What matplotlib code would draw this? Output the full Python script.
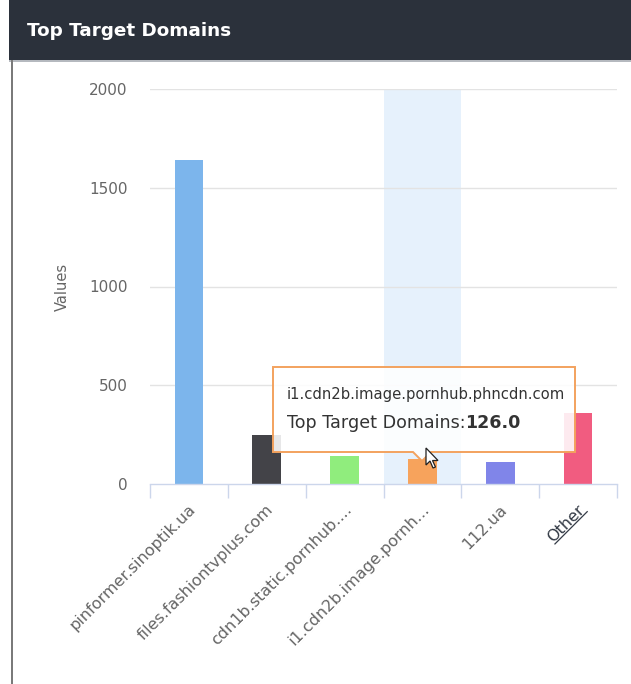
import matplotlib
matplotlib.use("Agg")
import math
import matplotlib.pyplot as plt
from matplotlib.patches import Rectangle, Polygon
from matplotlib.lines import Line2D

W, H = 631, 684
DPI = 100

categories = ["pinformer.sinoptik.ua", "files.fashiontvplus.com", "cdn1b.static.pornhub....",
              "i1.cdn2b.image.pornh...", "112.ua", "Other"]
values = [1640, 250, 142, 126, 113, 362]
colors = ["#7cb5ec", "#434348", "#90ed7d", "#f7a35c", "#8085e9", "#f15c80"]
yticks = [0, 500, 1000, 1500, 2000]
title = "Top Target Domains"
ylabel = "Values"
tooltip_name = "i1.cdn2b.image.pornhub.phncdn.com"
tooltip_series = "Top Target Domains:"
tooltip_value = "126.0"
hover_index = 3


def fx(x):
    return x / W


def fy(y):
    return 1 - y / H


fig = plt.figure(figsize=(W / DPI, H / DPI), dpi=DPI)
fig.patch.set_facecolor("white")

# header
fig.add_artist(Rectangle((fx(9), fy(60)), fx(W) - fx(9), fy(0) - fy(60),
                         transform=fig.transFigure, facecolor="#2b313b", edgecolor="none", zorder=0))
fig.add_artist(Rectangle((fx(9), fy(61.5)), fx(W) - fx(9), fy(60) - fy(61.5),
                         transform=fig.transFigure, facecolor="#b5b9bf", edgecolor="none", zorder=0))
# left border
fig.add_artist(Rectangle((fx(10.5), fy(H)), fx(2), fy(60) - fy(H),
                         transform=fig.transFigure, facecolor="#7a7a7a", edgecolor="none", zorder=0))
fig.text(fx(27), fy(31), title, color="white", fontsize=13.2, fontweight="bold",
         ha="left", va="center", family="DejaVu Sans")

# plot area
left, right, top, bottom = 150, 617, 89, 484
ax = fig.add_axes([fx(left), fy(bottom), fx(right) - fx(left), fy(top) - fy(bottom)])
ax.set_xlim(-0.5, len(categories) - 0.5)
ax.set_ylim(0, 2000)
ax.set_facecolor("none")

# hover band
ax.axvspan(hover_index - 0.5, hover_index + 0.5, color="#e6f1fc", zorder=0, lw=0)

for y in yticks[1:]:
    ax.axhline(y, color="#e3e3e3", lw=1, zorder=1)

x = list(range(len(categories)))
ax.bar(x, values, width=0.37, color=colors, zorder=2)

for s in ["top", "right", "left"]:
    ax.spines[s].set_visible(False)
ax.spines["bottom"].set_color("#ccd6eb")
ax.spines["bottom"].set_linewidth(1)

ax.set_yticks(yticks)
ax.set_yticklabels([str(v) for v in yticks], color="#666666", fontsize=11)
ax.tick_params(axis="y", length=0, pad=16)

ax.set_xticks([i - 0.5 for i in range(len(categories) + 1)])
ax.set_xticklabels([])
ax.tick_params(axis="x", direction="out", length=10, color="#ccd6eb", width=1)

lab_fs = 11.5
lab_y = -0.045
label_texts = []
for i, lab in enumerate(categories):
    t = ax.text(i - 0.01, lab_y, lab, transform=ax.get_xaxis_transform(),
                rotation=45, rotation_mode="anchor", ha="right", va="top",
                fontsize=lab_fs, color="#656565" if lab != "Other" else "#333a45")
    label_texts.append(t)

ax.set_ylabel(ylabel, color="#666666", fontsize=10.5, labelpad=14)

# underline for "Other"
fig.canvas.draw()
renderer = fig.canvas.get_renderer()
ot = label_texts[-1]
fp = ot.get_fontproperties()
w_o, _, _ = renderer.get_text_width_height_descent("Other", fp, ismath=False)
_, h_lp, d_lp = renderer.get_text_width_height_descent("lp", fp, ismath=False)
anc_x = ax.transData.transform((len(categories) - 1 - 0.01, 0))[0]
anc_y = ax.get_xaxis_transform().transform((0, lab_y))[1]
v = -(h_lp - d_lp) - 2.0
c = s_ = math.cos(math.radians(45))
pts = []
for u in (-w_o, 0):
    pts.append(((anc_x + u * c - v * s_) / W, (anc_y + u * s_ + v * c) / H))
fig.add_artist(Line2D([p[0] for p in pts], [p[1] for p in pts],
                      transform=fig.transFigure, color="#333a45", lw=0.9))

# tooltip
bl, bt, br, bbm = 273, 367, 575, 452
tip_x, tip_y = 422, 461
poly = [(fx(bl), fy(bt)), (fx(br), fy(bt)), (fx(br), fy(bbm)), (fx(tip_x + 9), fy(bbm)),
        (fx(tip_x), fy(tip_y)), (fx(tip_x - 9), fy(bbm)), (fx(bl), fy(bbm))]
fig.add_artist(Polygon(poly, closed=True, transform=fig.transFigure,
                       facecolor=(1, 1, 1, 0.88), edgecolor="#f3a25e", lw=1.4, zorder=5))
fig.text(fx(287), fy(395), tooltip_name, fontsize=10.6, color="#333333",
         ha="left", va="center", zorder=6)
t1 = fig.text(fx(287), fy(423), tooltip_series, fontsize=12.6, color="#333333",
              ha="left", va="center", zorder=6)
fig.canvas.draw()
e = t1.get_window_extent()
fig.text(e.x1 / W, fy(423), tooltip_value, fontsize=12.6, color="#333333", fontweight="bold",
         ha="left", va="center", zorder=6)

# mouse cursor
cx, cy = 426, 448
cur = [(0, 0), (0, 17), (4, 13), (7, 20), (9.5, 19), (6.5, 12.5), (12, 12.5)]
fig.add_artist(Polygon([(fx(cx + a), fy(cy + b)) for a, b in cur], closed=True,
                       transform=fig.transFigure, facecolor="white", edgecolor="#222222",
                       lw=0.9, zorder=7))

fig.savefig("out.png", dpi=DPI)
